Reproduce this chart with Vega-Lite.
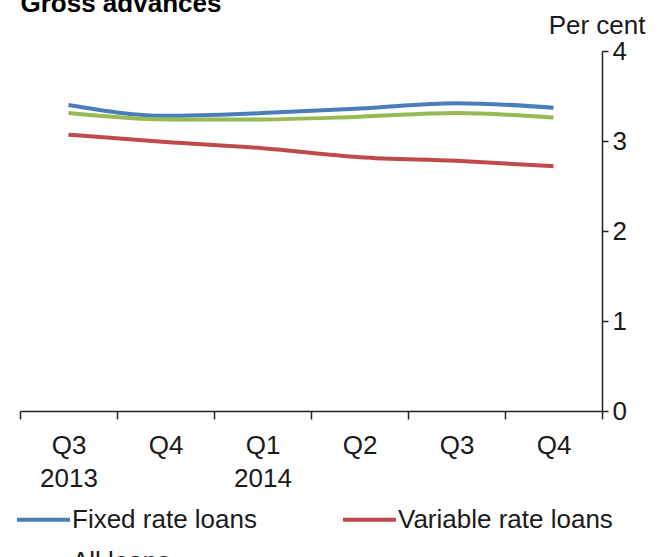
{
  "$schema": "https://vega.github.io/schema/vega-lite/v6.json",
  "width": 582,
  "height": 360,
  "autosize": {"type": "none"},
  "padding": {"left": 20, "top": 51, "right": 58, "bottom": 146},
  "background": "white",
  "config": {
    "view": {"stroke": null},
    "font": "Liberation Sans"
  },
  "data": {
    "values": [
      {"quarter": "Q3 2013", "series": "Fixed rate loans", "rate": 3.40},
      {"quarter": "Q4 2013", "series": "Fixed rate loans", "rate": 3.28},
      {"quarter": "Q1 2014", "series": "Fixed rate loans", "rate": 3.31},
      {"quarter": "Q2 2014", "series": "Fixed rate loans", "rate": 3.36},
      {"quarter": "Q3 2014", "series": "Fixed rate loans", "rate": 3.42},
      {"quarter": "Q4 2014", "series": "Fixed rate loans", "rate": 3.37},
      {"quarter": "Q3 2013", "series": "Variable rate loans", "rate": 3.07},
      {"quarter": "Q4 2013", "series": "Variable rate loans", "rate": 2.99},
      {"quarter": "Q1 2014", "series": "Variable rate loans", "rate": 2.92},
      {"quarter": "Q2 2014", "series": "Variable rate loans", "rate": 2.82},
      {"quarter": "Q3 2014", "series": "Variable rate loans", "rate": 2.78},
      {"quarter": "Q4 2014", "series": "Variable rate loans", "rate": 2.72},
      {"quarter": "Q3 2013", "series": "All loans", "rate": 3.31},
      {"quarter": "Q4 2013", "series": "All loans", "rate": 3.24},
      {"quarter": "Q1 2014", "series": "All loans", "rate": 3.24},
      {"quarter": "Q2 2014", "series": "All loans", "rate": 3.27},
      {"quarter": "Q3 2014", "series": "All loans", "rate": 3.31},
      {"quarter": "Q4 2014", "series": "All loans", "rate": 3.26}
    ]
  },
  "mark": {"type": "line", "strokeWidth": 4, "interpolate": "monotone"},
  "encoding": {
    "x": {
      "field": "quarter",
      "type": "ordinal",
      "sort": null,
      "scale": {"type": "band", "paddingInner": 0, "paddingOuter": 0},
      "axis": {
        "title": "Gross advances",
        "titleX": 0,
        "titleY": -400,
        "titleAlign": "left",
        "titleBaseline": "alphabetic",
        "titleFontSize": 26,
        "titleFontWeight": "bold",
        "titleColor": "#000000",
        "labelAngle": 0,
        "labelExpr": "!isString(datum.value) ? '' : (datum.value == 'Q3 2013' ? ['Q3', '2013'] : (datum.value == 'Q1 2014' ? ['Q1', '2014'] : substring(datum.value, 0, 2)))",
        "labelFontSize": 26,
        "labelColor": "#1a1a1a",
        "labelLineHeight": 33,
        "labelPadding": 13,
        "tickBand": "extent",
        "tickSize": 8,
        "tickColor": "#222222",
        "tickWidth": 1.5,
        "domainColor": "#222222",
        "domainWidth": 1.5,
        "grid": false
      }
    },
    "y": {
      "field": "rate",
      "type": "quantitative",
      "scale": {"domain": [0, 4], "nice": false},
      "axis": {
        "orient": "right",
        "values": [0, 1, 2, 3, 4],
        "title": "Per cent",
        "titleAngle": 0,
        "titleAlign": "right",
        "titleBaseline": "alphabetic",
        "titleX": 43,
        "titleY": -18,
        "titleFontSize": 26,
        "titleFontWeight": "normal",
        "titleColor": "#1a1a1a",
        "labelFontSize": 26,
        "labelColor": "#1a1a1a",
        "labelPadding": 4,
        "tickSize": 6,
        "tickColor": "#222222",
        "tickWidth": 1.5,
        "domainColor": "#222222",
        "domainWidth": 1.5,
        "grid": false
      }
    },
    "color": {
      "field": "series",
      "type": "nominal",
      "scale": {
        "domain": ["Fixed rate loans", "Variable rate loans", "All loans"],
        "range": ["#4A7EBB", "#BE4B48", "#98B954"]
      },
      "legend": {
        "title": null,
        "orient": "none",
        "direction": "horizontal",
        "legendX": -5,
        "legendY": 440,
        "columns": 2,
        "columnPadding": 78,
        "rowPadding": -26,
        "symbolType": "stroke",
        "symbolSize": 2809,
        "symbolStrokeWidth": 4,
        "labelFontSize": 26,
        "labelColor": "#1a1a1a",
        "labelOffset": 0,
        "labelLimit": 400
      }
    }
  }
}
